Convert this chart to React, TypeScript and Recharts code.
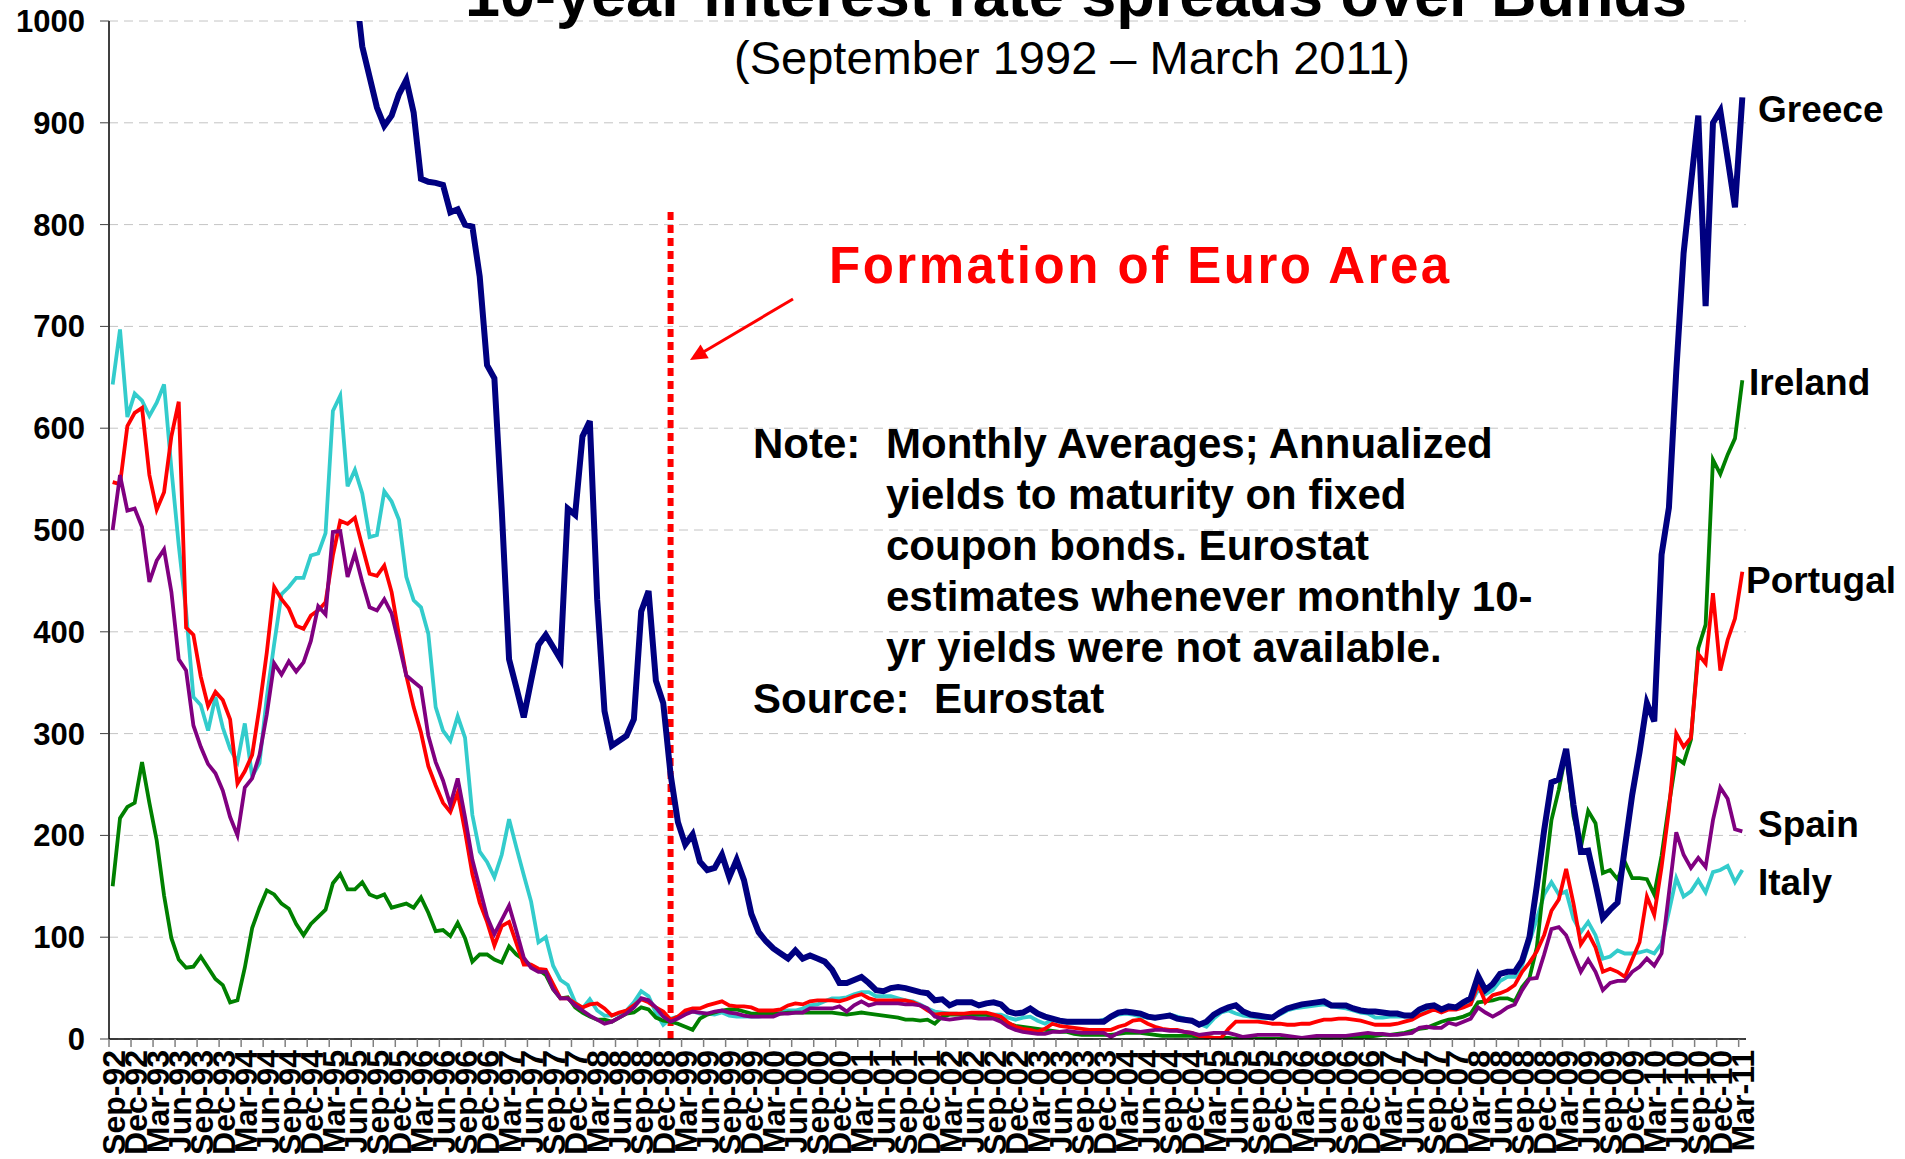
import { LineChart, Line, XAxis, YAxis, CartesianGrid, ReferenceLine } from "recharts";

const MONTH_NAMES = ["Jan", "Feb", "Mar", "Apr", "May", "Jun", "Jul", "Aug", "Sep", "Oct", "Nov", "Dec"];

// Sep-92 .. Mar-11, monthly
const MONTHS: string[] = [];
for (let k = 0; k < 223; k++) {
  const t = 8 + k;
  const yy = (92 + Math.floor(t / 12)) % 100;
  MONTHS.push(`${MONTH_NAMES[t % 12]}-${String(yy).padStart(2, "0")}`);
}

const Y_TICKS = [0, 100, 200, 300, 400, 500, 600, 700, 800, 900, 1000];

// spreads over Bunds, basis points (Greece runs off the top of the scale until 1995)
const GREECE = [
  1650, 1720, 1780, 1700, 1640, 1600, 1580, 1620, 1560, 1500, 1470, 1430,
  1400, 1380, 1350, 1320, 1290, 1310, 1330, 1280, 1240, 1210, 1190, 1170,
  1160, 1140, 1120, 1110, 1100, 1090, 1080, 1070, 1060, 1040, 975, 945,
  915, 897, 907, 928, 942, 910, 845, 842, 841, 839, 812, 815,
  800, 798, 749, 662, 649, 520, 373, 345, 316, 352, 387, 397,
  385, 373, 521, 515, 592, 607, 432, 322, 288, 293, 298, 314,
  420, 440, 352, 330, 260, 213, 191, 201, 174, 166, 168, 181,
  159, 176, 156, 123, 105, 96, 89, 84, 79, 87, 79, 82,
  79, 76, 68, 55, 55, 58, 61, 55, 48, 47, 50, 51,
  50, 48, 46, 45, 38, 39, 33, 36, 36, 36, 33, 35,
  36, 34, 27, 25, 26, 30, 25, 22, 20, 18, 17, 17,
  17, 17, 17, 17, 22, 26, 27, 26, 25, 22, 21, 22,
  23, 20, 19, 18, 14, 17, 24, 28, 31, 33, 27, 24,
  23, 22, 21, 26, 30, 32, 34, 35, 36, 37, 33, 33,
  33, 30, 28, 27, 27, 26, 25, 25, 23, 23, 29, 32,
  33, 29, 32, 31, 36, 40, 62, 48, 54, 64, 66, 66,
  77, 100, 150, 205, 252, 255, 285, 230, 184, 185, 153, 119,
  127, 134, 188, 240, 282, 330, 312, 476, 522, 656, 772, 840,
  907, 720, 900, 912, 865, 817, 925,
];

const IRELAND = [
  150, 217, 228, 232, 272, 232, 195, 141, 99, 78, 70, 71,
  81, 70, 59, 53, 36, 38, 70, 109, 129, 146, 142, 133,
  128, 113, 102, 113, 120, 127, 153, 162, 147, 147, 154, 142,
  139, 142, 129, 131, 133, 129, 139, 124, 106, 107, 101, 114,
  99, 76, 83, 83, 78, 75, 91, 83, 78, 72, 68, 63,
  49, 40, 41, 31, 26, 22, 19, 19, 17, 21, 25, 26,
  31, 29, 21, 18, 17, 15, 12, 9, 20, 24, 26, 28,
  29, 29, 27, 25, 25, 25, 25, 25, 26, 26, 26, 26,
  26, 26, 26, 25, 24, 25, 26, 25, 24, 23, 22, 21,
  19, 19, 18, 19, 15, 22, 24, 24, 24, 24, 24, 24,
  22, 18, 15, 13, 12, 11, 10, 9, 8, 7, 7, 5,
  4, 4, 4, 4, 4, 5, 6, 6, 6, 5, 4, 3,
  3, 3, 3, 3, 2, 2, 1, 1, 1, 0, 0, 0,
  0, 0, 0, 0, 1, 1, 1, 1, 1, 1, 1, 1,
  1, 2, 2, 2, 3, 4, 4, 5, 6, 8, 10, 11,
  14, 17, 19, 20, 22, 25, 36, 37, 38, 40, 40, 37,
  51, 60, 90, 155, 215, 245, 282, 219, 188, 224, 212, 163,
  166, 157, 174, 158, 158, 157, 142, 180, 230, 276, 271, 294,
  384, 407, 569, 555, 574, 590, 647,
];

const PORTUGAL = [
  547, 545, 602, 615, 620, 554, 520, 537, 592, 626, 404, 397,
  356, 327, 341, 333, 314, 251, 263, 279, 326, 380, 444, 432,
  423, 406, 403, 416, 421, 429, 475, 509, 506, 512, 484, 457,
  455, 465, 439, 397, 357, 326, 301, 268, 249, 232, 223, 242,
  204, 162, 134, 115, 92, 111, 115, 94, 73, 73, 69, 68,
  54, 40, 40, 35, 31, 34, 35, 30, 23, 26, 28, 33,
  39, 36, 31, 27, 19, 22, 28, 30, 30, 33, 35, 37,
  33, 32, 32, 31, 28, 28, 28, 29, 33, 35, 34, 37,
  38, 38, 38, 37, 39, 42, 44, 40, 38, 38, 38, 38,
  38, 36, 33, 28, 24, 25, 25, 25, 25, 26, 26, 26,
  24, 22, 16, 12, 10, 9, 7, 10, 15, 13, 12, 11,
  10, 9, 9, 9, 9, 12, 14, 18, 19, 15, 12, 10,
  9, 9, 7, 6, 3, 2, 1, 1, 10, 17, 17, 17,
  17, 16, 15, 15, 14, 14, 15, 15, 17, 19, 19, 20,
  20, 19, 18, 16, 14, 14, 14, 15, 17, 19, 23, 26,
  29, 26, 29, 29, 31, 34, 54, 36, 43, 45, 48, 53,
  66, 75, 86, 102, 126, 137, 167, 133, 93, 104, 90, 66,
  69, 66, 61, 78, 95, 140, 122, 169, 225, 300, 287, 296,
  378, 369, 438, 362, 392, 413, 459,
];

const SPAIN = [
  500, 554, 519, 521, 503, 449, 470, 481, 439, 373, 362, 308,
  287, 270, 261, 244, 218, 200, 247, 256, 279, 319, 369, 358,
  371, 361, 370, 391, 425, 417, 498, 499, 454, 477, 449, 424,
  421, 432, 418, 388, 357, 351, 345, 298, 272, 254, 230, 256,
  218, 176, 148, 120, 103, 117, 131, 106, 80, 70, 66, 66,
  49, 40, 40, 33, 28, 23, 19, 15, 17, 21, 25, 31,
  40, 38, 31, 22, 17, 20, 24, 27, 26, 25, 27, 28,
  26, 25, 23, 22, 22, 22, 22, 25, 25, 26, 26, 30,
  30, 30, 30, 32, 27, 33, 37, 33, 35, 35, 35, 35,
  34, 34, 33, 30, 22, 20, 19, 20, 21, 21, 20, 20,
  20, 17, 12, 9, 7, 6, 5, 5, 7, 7, 8, 7,
  6, 6, 6, 6, 2, 6, 9, 8, 7, 8, 9, 9,
  8, 8, 7, 6, 4, 5, 6, 6, 6, 4, 2, 3,
  4, 4, 4, 4, 3, 2, 1, 2, 3, 3, 3, 3,
  3, 4, 5, 6, 5, 5, 4, 4, 5, 6, 11, 12,
  11, 11, 16, 14, 17, 20, 31, 26, 22, 26, 31, 34,
  48, 59, 60, 83, 108, 110, 102, 84, 66, 78, 66, 48,
  55, 57, 57, 66, 71, 79, 72, 84, 143, 203, 181, 168,
  178, 169, 215, 247, 236, 206, 204,
];

const ITALY = [
  643, 697, 611, 634, 627, 612, 625, 643, 560, 485, 420, 336,
  328, 303, 336, 306, 285, 272, 310, 258, 271, 336, 388, 437,
  444, 453, 453, 475, 477, 497, 617, 632, 543, 559, 536, 493,
  495, 538, 528, 510, 454, 431, 424, 398, 326, 303, 293, 317,
  296, 220, 184, 174, 159, 181, 216, 188, 161, 135, 95, 100,
  72, 58, 53, 36, 30, 39, 28, 23, 23, 25, 28, 36,
  47, 42, 26, 14, 20, 22, 25, 27, 25, 25, 24, 26,
  23, 22, 22, 22, 22, 23, 25, 27, 28, 28, 30, 33,
  34, 37, 40, 40, 41, 44, 46, 46, 42, 42, 42, 40,
  38, 37, 34, 30, 27, 26, 25, 25, 23, 22, 22, 23,
  24, 24, 21, 19, 21, 22, 18, 15, 19, 17, 16, 16,
  17, 17, 17, 19, 21, 24, 25, 24, 22, 21, 20, 22,
  24, 22, 20, 17, 15, 12, 20, 26, 28, 25, 23, 22,
  21, 20, 21, 24, 28, 30, 31, 32, 33, 34, 32, 31,
  30, 28, 26, 25, 21, 21, 22, 22, 22, 22, 26, 29,
  30, 28, 31, 30, 33, 35, 48, 44, 48, 57, 61, 61,
  72, 95, 118, 142, 154, 142, 145, 118, 105, 115, 102, 79,
  81, 87, 84, 84, 85, 87, 84, 94, 125, 158, 140, 145,
  156, 144, 164, 166, 170, 154, 166,
];

const NOTE_LINES = [
  "yields to maturity on fixed",
  "coupon bonds. Eurostat",
  "estimates whenever monthly 10-",
  "yr yields were not available.",
];

const rows = MONTHS.map((month, i) => ({
  month,
  Greece: GREECE[i],
  Ireland: IRELAND[i],
  Portugal: PORTUGAL[i],
  Spain: SPAIN[i],
  Italy: ITALY[i],
}));

const W = 1905;
const H = 1159;
const PLOT_LEFT = 109;
const PLOT_RIGHT = 1746;
const HALF = (PLOT_RIGHT - PLOT_LEFT) / MONTHS.length / 2;
const FONT = "'Liberation Sans', Arial, sans-serif";

function MonthTick(props: any) {
  const { x, y, payload } = props;
  const tx = x + 1;
  const ty = y + 11;
  return (
    <g>
      <line x1={x - HALF} x2={x - HALF} y1={y} y2={y + 8} stroke="#808080" strokeWidth={1.5} />
      <text
        x={tx}
        y={ty}
        transform={`rotate(-90 ${tx} ${ty})`}
        textAnchor="end"
        dominantBaseline="central"
        fontSize={32}
        fontWeight="bold"
        fill="#000"
      >
        {payload.value}
      </text>
    </g>
  );
}

function arrowHead(x1: number, y1: number, x2: number, y2: number, len: number, half: number) {
  const d = Math.hypot(x2 - x1, y2 - y1);
  const ux = (x2 - x1) / d;
  const uy = (y2 - y1) / d;
  const bx = x2 - ux * len;
  const by = y2 - uy * len;
  return `${x2},${y2} ${bx - uy * half},${by + ux * half} ${bx + uy * half},${by - ux * half}`;
}

export default function App() {
  return (
    <div style={{ position: "relative", width: W, height: H, overflow: "hidden", fontFamily: FONT, background: "#fff" }}>
      <style>{"html,body{margin:0;padding:0;overflow:hidden;background:#fff}"}</style>
      <LineChart width={W} height={H} data={rows} margin={{ top: 21, right: W - PLOT_RIGHT, bottom: 0, left: 9 }}>
        <CartesianGrid vertical={false} stroke="#c4c4c4" strokeDasharray="9 6" />
        <XAxis
          dataKey="month"
          scale="point"
          interval={2}
          height={120}
          padding={{ left: HALF, right: HALF }}
          tickLine={false}
          tickSize={0}
          tickMargin={0}
          axisLine={{ stroke: "#000", strokeWidth: 1.5 }}
          tick={(p: any) => <MonthTick {...p} />}
        />
        <YAxis
          width={100}
          domain={[0, 1000]}
          ticks={Y_TICKS}
          allowDataOverflow
          tickSize={9}
          tickMargin={15}
          tickLine={{ stroke: "#404040" }}
          axisLine={{ stroke: "#000", strokeWidth: 1.5 }}
          tick={{ fontSize: 31, fontWeight: "bold", fill: "#000" }}
        />
        <ReferenceLine
          segment={[
            { x: "Jan-99", y: 0 },
            { x: "Jan-99", y: 815 },
          ]}
          stroke="#ff0000"
          strokeWidth={6}
          strokeDasharray="8 5"
        />
        <Line type="linear" dataKey="Italy" stroke="#33cccc" strokeWidth={3.8} dot={false} isAnimationActive={false} />
        <Line type="linear" dataKey="Ireland" stroke="#008000" strokeWidth={3.8} dot={false} isAnimationActive={false} />
        <Line type="linear" dataKey="Portugal" stroke="#ff0000" strokeWidth={3.8} dot={false} isAnimationActive={false} />
        <Line type="linear" dataKey="Spain" stroke="#800080" strokeWidth={3.8} dot={false} isAnimationActive={false} />
        <Line type="linear" dataKey="Greece" stroke="#000080" strokeWidth={6} dot={false} isAnimationActive={false} />
      </LineChart>

      <svg width={W} height={H} style={{ position: "absolute", left: 0, top: 0, pointerEvents: "none" }}>
        <text x={1076} y={16} textAnchor="middle" fontSize={63} fontWeight="bold" fill="#000">
          10-year interest rate spreads over Bunds
        </text>
        <text x={1072} y={74} textAnchor="middle" fontSize={47} fill="#000">
          (September 1992 – March 2011)
        </text>
        <text x={829} y={283} fontSize={51} fontWeight="bold" fill="#ff0000" letterSpacing={2.5}>
          Formation of Euro Area
        </text>
        <line x1={793} y1={299} x2={700} y2={354} stroke="#ff0000" strokeWidth={3} />
        <polygon points={arrowHead(793, 299, 690, 360, 17, 8)} fill="#ff0000" />

        <g fontSize={42} fontWeight="bold" fill="#000">
          <text x={753} y={458}>Note:</text>
          <text x={886} y={458}>Monthly Averages; Annualized</text>
          {NOTE_LINES.map((t, i) => (
            <text key={t} x={886} y={509 + i * 51}>
              {t}
            </text>
          ))}
          <text x={753} y={713}>Source:</text>
          <text x={934} y={713}>Eurostat</text>
        </g>

        <g fontSize={37} fontWeight="bold" fill="#000">
          <text x={1758} y={122}>Greece</text>
          <text x={1749} y={395}>Ireland</text>
          <text x={1746} y={593}>Portugal</text>
          <text x={1758} y={837}>Spain</text>
          <text x={1758} y={895}>Italy</text>
        </g>
      </svg>
    </div>
  );
}
